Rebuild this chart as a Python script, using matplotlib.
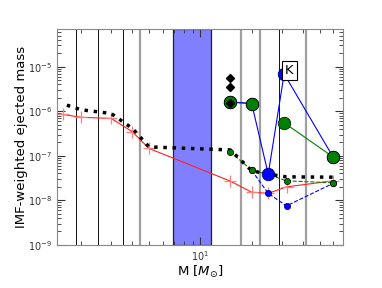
import matplotlib
matplotlib.use("Agg")
import matplotlib.pyplot as plt
import matplotlib.ticker as ticker
import numpy as np

# vertical guide lines and shaded band (masses)
VLINES_DARK = [1.86, 2.5, 3.5, 28.9]
VLINES_GRAY = [4.45, 17.3, 22.4, 41.5]
BAND = (6.94, 11.5)

# red line with + markers
red_m = [1.3, 1.57, 2.0, 3.0, 4.0, 5.0, 15, 20, 25, 32, 60]
red_y = [8.6e-7, 8.45e-7, 7.3e-7, 6.9e-7, 3.45e-7, 1.46e-7, 2.69e-8, 1.52e-8, 1.43e-8, 2.0e-8, 2.73e-8]

# thick black dotted total
black_m = [1.65, 2, 3, 4, 5, 15, 20, 25, 32, 60]
black_y = [1.37e-6, 1.08e-6, 8.9e-7, 4.1e-7, 1.58e-7, 1.35e-7, 4.6e-8, 3.86e-8, 3.36e-8, 3.3e-8]

# small circles, dashed
green_small_m = [15, 20, 25, 32, 60]
green_small_y = [1.22e-7, 4.75e-8, 3.8e-8, 2.73e-8, 2.47e-8]
blue_small_m = [20, 25, 32, 60]
blue_small_y = [4.7e-8, 1.43e-8, 7.5e-9, 2.4e-8]

# big circles, solid
big_m = [15, 20, 25, 31, 60]
green_big_y = [1.62e-6, 1.49e-6, np.nan, 5.5e-7, 9.4e-8]
blue_big_y = [1.6e-6, 1.49e-6, 3.86e-8, 6.9e-6, 9.4e-8]

# diamonds
diamond_m = [15, 15, 15]
diamond_y = [5.7e-6, 3.5e-6, 1.57e-6]

K_POS = (33.2, 8.3e-6)

fig = plt.figure(figsize=(3.82, 2.88), dpi=100)
ax = fig.add_axes([0.150, 0.150, 0.749, 0.749])
ax.set_xscale("log")
ax.set_yscale("log")

for m in VLINES_DARK:
    ax.axvline(m, color="#111111", linewidth=0.7, zorder=1)
for m in VLINES_GRAY:
    ax.axvline(m, color="#a0a0a0", linewidth=1.6, zorder=1)
ax.axvspan(BAND[0], BAND[1], facecolor="#8080ff", edgecolor="#222222", linewidth=0.9, zorder=1)

ax.plot(red_m, red_y, color="#ff2020", linewidth=0.8, marker="+", markersize=9,
        markeredgecolor="#ff8080", markeredgewidth=0.9, zorder=2)

ax.plot(green_small_m, green_small_y, color="#008000", linewidth=0.8, linestyle="--", zorder=3)
ax.plot(blue_small_m, blue_small_y, color="#0000ff", linewidth=0.8, linestyle="--", zorder=3)

ax.plot(black_m, black_y, color="black", linewidth=2.5, linestyle=":", zorder=4)

ax.plot(blue_small_m, blue_small_y, linestyle="none", marker="o", markersize=4.5,
        markerfacecolor="#0000ff", markeredgecolor="#000060", markeredgewidth=0.5, zorder=5)
ax.plot(green_small_m, green_small_y, linestyle="none", marker="o", markersize=4.5,
        markerfacecolor="#008000", markeredgecolor="black", markeredgewidth=0.5, zorder=5)

ax.plot(big_m, green_big_y, color="#008000", linewidth=0.8, zorder=5)
ax.plot(big_m, blue_big_y, color="#0000ff", linewidth=0.8, marker="o", markersize=9,
        markerfacecolor="#0000ff", markeredgecolor="#000080", markeredgewidth=0.6, zorder=6)
ax.plot(big_m, green_big_y, linestyle="none", marker="o", markersize=9,
        markerfacecolor="#008000", markeredgecolor="black", markeredgewidth=0.5, zorder=7)

ax.plot(diamond_m, diamond_y, linestyle="none", marker="D", markersize=4.5,
        color="black", zorder=8)

ax.text(K_POS[0], K_POS[1], "K", fontsize=9.5, ha="center", va="center", zorder=9,
        bbox=dict(boxstyle="square,pad=0.25", facecolor="white", edgecolor="black", linewidth=0.8))

ax.set_xlim(1.45, 69)
ax.set_ylim(1e-9, 7e-5)
ax.xaxis.set_minor_formatter(ticker.NullFormatter())
ax.yaxis.set_minor_formatter(ticker.NullFormatter())

ax.tick_params(which="both", direction="in", top=True, right=True, colors="#333333", labelsize=7)
ax.tick_params(which="major", length=6, width=0.8)
ax.tick_params(which="minor", length=3, width=0.6)
for spine in ax.spines.values():
    spine.set_color("#888888")

ax.set_xlabel(r"M [$M_{\odot}$]", fontsize=9.5, labelpad=0)
ax.set_ylabel("IMF-weighted ejected mass", fontsize=9.5, labelpad=0)

fig.savefig("out.png", dpi=100, facecolor="white")
